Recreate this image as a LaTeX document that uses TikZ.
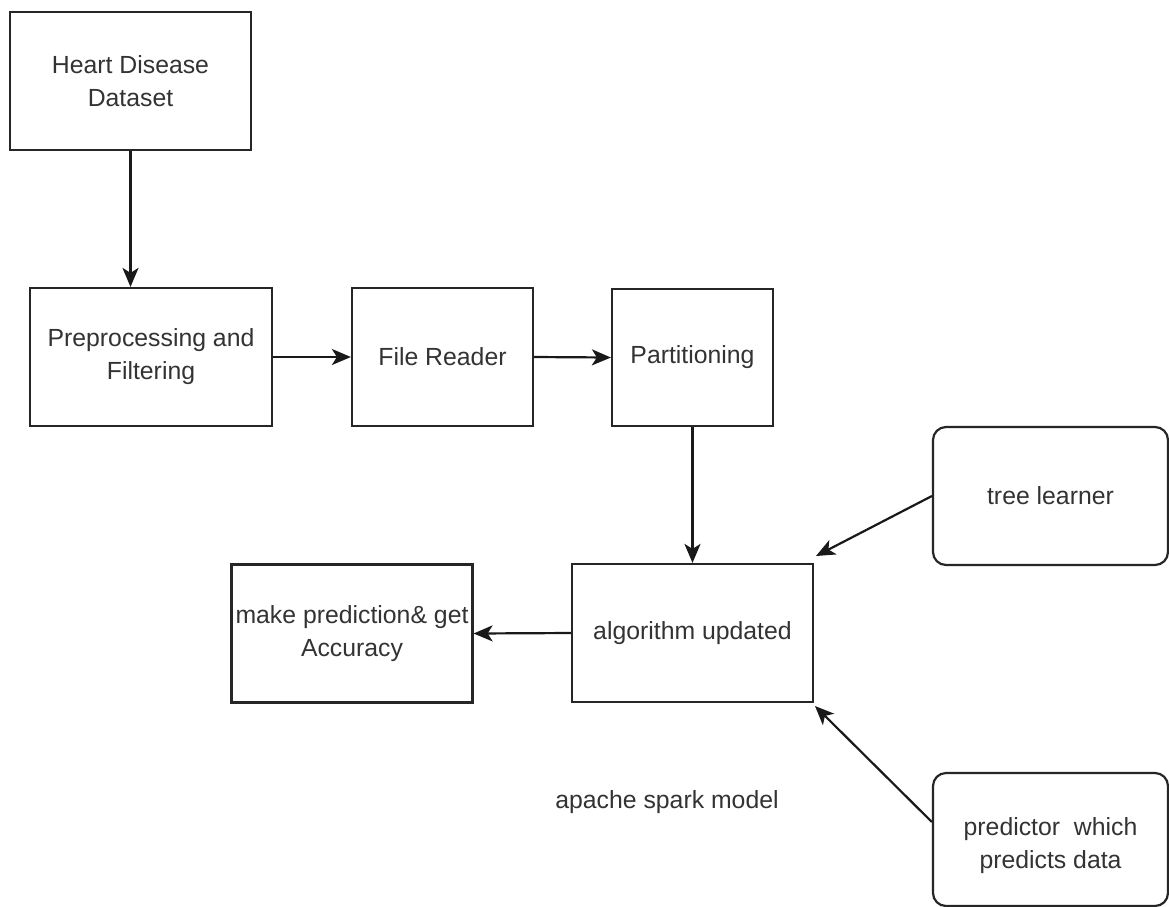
\documentclass[tikz,border=0pt]{standalone}
\usepackage{fontspec}
\setmainfont{Liberation Sans}
\usetikzlibrary{arrows.meta}
\begin{document}
\begin{tikzpicture}[x=1pt,y=-1pt,
  box/.style={draw=black!85, line width=2.2pt, align=center, inner sep=0pt,
    font=\fontsize{24.8}{33}\selectfont, text=black!80},
  rbox/.style={box, rounded corners=13pt},
  conn/.style={draw=black!90, line width=2.2pt, -{Stealth[length=19pt,width=16pt,inset=5pt]}},
  lbl/.style={font=\fontsize{24.8}{33}\selectfont, text=black!80, inner sep=0pt, align=center}]
\path[use as bounding box, fill=white] (0,0) rectangle (1169,906);

\node[box, minimum width=241pt, minimum height=138pt] (heart) at (130.5,81) {Heart Disease\\Dataset};
\node[box, minimum width=242pt, minimum height=138pt] (prep) at (151,357) {Preprocessing and\\Filtering};
\node[box, minimum width=181pt, minimum height=138pt] (fr) at (442.5,357) {File Reader};
\node[box, minimum width=161pt, minimum height=137pt] (part) at (692.5,357.5) {Partitioning};
\node[box, minimum width=241pt, minimum height=138pt] (alg) at (692.5,633) {algorithm updated};
\node[box, minimum width=241pt, minimum height=138pt] (pred) at (352,633.5) {make prediction\& get\\Accuracy};
\node[rbox, minimum width=235pt, minimum height=138pt] (tree) at (1050.5,496) {tree learner};
\node[rbox, minimum width=235pt, minimum height=133pt,
  label={[lbl, yshift=-6pt]center:predictor\ \ which\\predicts data}] (predr) at (1050.5,839.5) {};
\node[lbl] (apache) at (667,802) {apache spark model};

\coordinate (tin) at (816,556);
\coordinate (pin) at (815,706);

\draw[conn] (heart.south) -- (heart.south |- prep.north);
\draw[conn] (prep.east) -- (fr.west);
\draw[conn] (fr.east) -- (part.west);
\draw[conn] (part.south) -- (alg.north);
\draw[conn] (alg.west) -- (pred.east);
\draw[conn] (tree.west) -- (tin);
\draw[conn] (predr.west |- 0,822) -- (pin);
\end{tikzpicture}
\end{document}
